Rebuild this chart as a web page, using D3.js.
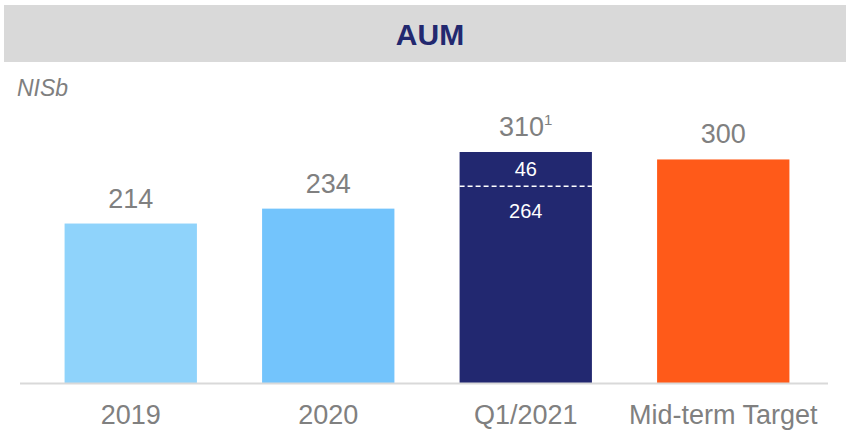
<!DOCTYPE html>
<html>
<head>
<meta charset="utf-8">
<script src="https://cdn.jsdelivr.net/npm/d3@7"></script>
<style>
  body { margin: 0; background: #fff; }
  text { font-family: "Liberation Sans", Arial, sans-serif; }
</style>
</head>
<body>
<div class="chart"></div>
<script>
// data
var categories = ["2019", "2020", "Q1/2021", "Mid-term Target"];
var totals = [214, 234, 310, 300];
var barColors = ["#8fd3fb", "#73c4fc", "#222870", "#ff5a19"];
// split of the Q1/2021 bar
var splitLower = 264, splitUpper = 46;
var footnote = "1";

var svgWidth = 846, svgHeight = 432;

var svg = d3.select(".chart").append("svg")
    .attr("width", svgWidth)
    .attr("height", svgHeight);

// title band
svg.append("rect")
    .attr("x", 4).attr("y", 5)
    .attr("width", 842).attr("height", 57)
    .attr("fill", "#d9d9d9");
svg.append("text")
    .attr("x", 430).attr("y", 45)
    .attr("text-anchor", "middle")
    .attr("font-size", 30).attr("font-weight", "bold")
    .attr("fill", "#22286f")
    .text("AUM");

svg.append("text")
    .attr("x", 17).attr("y", 96)
    .attr("font-size", 23).attr("font-style", "italic")
    .attr("fill", "#7f7f7f")
    .text("NISb");

var baseline = 383;

var x = d3.scaleBand()
    .domain(categories)
    .range([32, 822])
    .paddingInner(0.33)
    .paddingOuter(0.165);

var y = d3.scaleLinear()
    .domain([0, 310])
    .range([baseline, baseline - 231]);

// bars
svg.selectAll(".bar")
    .data(totals)
    .enter().append("rect")
    .attr("class", "bar")
    .attr("x", function(d, i) { return x(categories[i]); })
    .attr("y", function(d) { return y(d); })
    .attr("width", x.bandwidth())
    .attr("height", function(d) { return y(0) - y(d); })
    .attr("fill", function(d, i) { return barColors[i]; });

// axis line
svg.append("line")
    .attr("x1", 20).attr("x2", 828)
    .attr("y1", baseline + 0.5).attr("y2", baseline + 0.5)
    .attr("stroke", "#d9d9d9").attr("stroke-width", 2);

// value labels
var vl = svg.selectAll(".val")
    .data(totals)
    .enter().append("text")
    .attr("class", "val")
    .attr("x", function(d, i) { return x(categories[i]) + x.bandwidth() / 2; })
    .attr("y", function(d) { return y(d) - 16; })
    .attr("text-anchor", "middle")
    .attr("font-size", 27)
    .attr("fill", "#808080");
vl.append("tspan").text(function(d) { return d; });
vl.filter(function(d, i) { return categories[i] === "Q1/2021"; })
    .append("tspan")
    .attr("font-size", 15)
    .attr("dy", -11)
    .text(footnote);

// split inside Q1/2021
var qx = x("Q1/2021"), bw = x.bandwidth();
svg.append("line")
    .attr("x1", qx).attr("x2", qx + bw)
    .attr("y1", y(splitLower)).attr("y2", y(splitLower))
    .attr("stroke", "#fff").attr("stroke-width", 1.5)
    .attr("stroke-dasharray", "5,3");
svg.append("text")
    .attr("x", qx + bw / 2)
    .attr("y", (y(splitLower + splitUpper) + y(splitLower)) / 2 + 7)
    .attr("text-anchor", "middle")
    .attr("font-size", 20).attr("fill", "#fff")
    .text(splitUpper);
svg.append("text")
    .attr("x", qx + bw / 2)
    .attr("y", y(splitLower) + 32)
    .attr("text-anchor", "middle")
    .attr("font-size", 20).attr("fill", "#fff")
    .text(splitLower);

// category labels
svg.selectAll(".cat")
    .data(categories)
    .enter().append("text")
    .attr("class", "cat")
    .attr("x", function(d) { return x(d) + x.bandwidth() / 2; })
    .attr("y", 424)
    .attr("text-anchor", "middle")
    .attr("font-size", 27)
    .attr("fill", "#808080")
    .text(function(d) { return d; });
</script>
</body>
</html>
